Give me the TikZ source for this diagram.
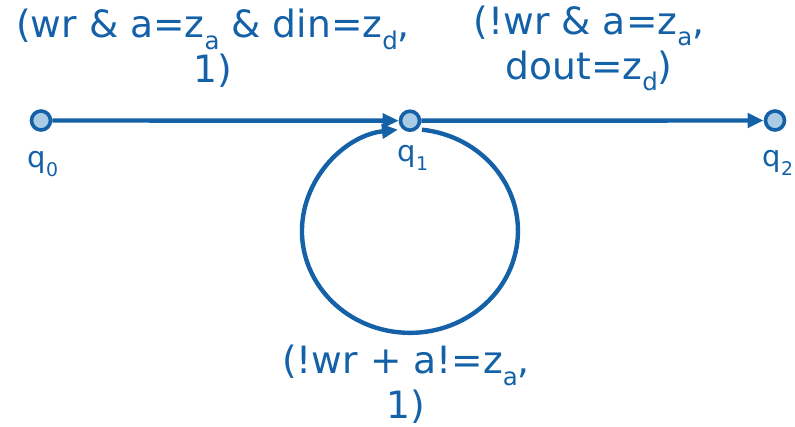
\documentclass[tikz,border=0pt]{standalone}
\usepackage{fontspec}
\setmainfont{DejaVu Sans}
\usetikzlibrary{arrows.meta}
\definecolor{ink}{HTML}{1461A8}
\definecolor{dotfill}{HTML}{A9CBE6}
\newcommand\lsub[1]{\raisebox{-0.3em}{\scalebox{0.65}{#1}}}
\begin{document}
\begin{tikzpicture}[x=1pt,y=1pt,
  state/.style={circle, draw=ink, fill=dotfill, line width=3.6pt, minimum size=19pt, inner sep=0pt},
  edge/.style={draw=ink, line width=4.4pt, -{Triangle[length=16pt,width=14pt]}},
  cond/.style={text=ink, font=\fontsize{37.6}{45}\selectfont, align=center, inner sep=0pt},
  qlbl/.style={text=ink, font=\fontsize{29}{34}\selectfont, inner sep=0pt, anchor=base}]
\useasboundingbox (0,0) rectangle (795,427);
\node[state] (q0) at (41,306.5) {};
\node[state] (q1) at (410,306.3) {};
\node[state] (q2) at (775,306.5) {};
\node[qlbl] (lq0) at (43,259) {q\lsub{0}};
\node[qlbl] (lq1) at (413,265) {q\lsub{1}};
\node[qlbl] (lq2) at (778,260) {q\lsub{2}};
\draw[edge] (q0) -- (q1);
\draw[edge] (q1) -- (q2);
\draw[edge] ([shift={(12,-9)}]q1.center) arc[start angle=83.6, end angle=-263.6, x radius=108, y radius=101.9];
\node[cond] (c1) at (213,378.5) {(wr \& a=z\lsub{a} \& din=z\lsub{d},\\1)};
\node[cond] (c2) at (589,378.5) {(!wr \& a=z\lsub{a},\\dout=z\lsub{d})};
\node[cond] (c3) at (406,42.5) {(!wr + a!=z\lsub{a},\\1)};
\end{tikzpicture}
\end{document}
